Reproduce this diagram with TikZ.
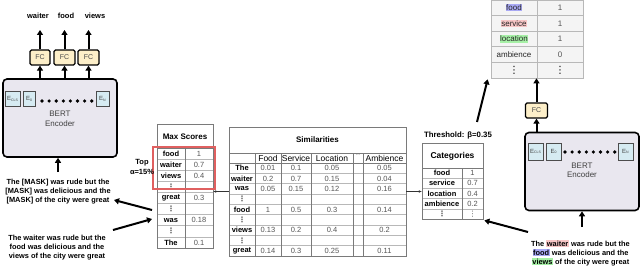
\documentclass[tikz,border=0pt]{standalone}
\usepackage{fontspec}
\setmainfont{Liberation Sans}
\newfontfamily\djv{DejaVu Sans}
\usetikzlibrary{arrows.meta}
\definecolor{bertfill}{HTML}{E9E7EF}
\definecolor{fcfill}{HTML}{FDEFC9}
\definecolor{efill}{HTML}{D6EBF2}
\definecolor{hlblue}{HTML}{A9A9F5}
\definecolor{hlpink}{HTML}{F7C6C6}
\definecolor{hlgreen}{HTML}{A6F0A6}
\definecolor{gridc}{HTML}{B8B8B8}
\definecolor{outc}{HTML}{7A7A7A}
\definecolor{valc}{HTML}{555555}
\definecolor{redbox}{HTML}{E06060}
\definecolor{trfill}{HTML}{F4F4F4}
\newcommand\vd{{\color{valc}\djv ⋮}}
\newcommand\vdb{{\color{black}\djv\fontsize{10}{10}\selectfont ⋮}}
\newcommand\hlx[2]{{\setlength\fboxsep{0.6pt}\colorbox{#1}{\vphantom{fd}#2}}}
\tikzset{
 bert/.style={draw=black, line width=1.6pt, rounded corners=4pt, fill=bertfill, minimum width=114pt, minimum height=78pt, inner sep=0},
 fcbox/.style={draw=black, line width=1.3pt, rounded corners=1.5pt, fill=fcfill, minimum width=20pt, minimum height=15pt, inner sep=0, font=\fontsize{7}{7}\selectfont, text=black!70},
 ebox/.style={draw=black!70, line width=1pt, fill=efill, inner sep=0, font=\fontsize{6}{7}\selectfont, text=black!75},
 bigarrow/.style={line width=2pt, -{Triangle[length=5pt,width=6pt]}},
 thinarrow/.style={line width=0.5pt, draw=black!80, -{Stealth[length=3pt,width=2.5pt]}},
 sent/.style={align=center, font=\bfseries\fontsize{7.4}{9}\selectfont, inner sep=0},
 lbl/.style={font=\bfseries\fontsize{7.5}{8}\selectfont, inner sep=0},
 tbl/.style={draw=outc, line width=0.7pt, inner sep=0},
 ttitle/.style={font=\bfseries\fontsize{8}{9}\selectfont, inner sep=0},
 cellw/.style={font=\bfseries\fontsize{7.5}{8}\selectfont, inner sep=0},
 cellh/.style={font=\fontsize{8.5}{9}\selectfont, inner sep=0},
 cellv/.style={font=\fontsize{7.5}{8}\selectfont, text=valc, inner sep=0},
 gridl/.style={draw=gridc, line width=0.6pt},
 darkl/.style={draw=outc, line width=0.7pt},
 bdot/.style={circle, fill=black, inner sep=0, minimum size=3.6pt},
 btext/.style={align=center, font=\fontsize{8}{9.5}\selectfont, text=black!75, inner sep=0},
}
\begin{document}
\begin{tikzpicture}[x=1pt,y=-1pt]
\useasboundingbox (0,0) rectangle (640,270);
\fill[white] (0,0) rectangle (640,270);

% ---------- left BERT ----------
\node[bert] (lbert) at (60,118) {};
\node[ebox, minimum width=15pt, minimum height=15pt] (lecls) at (12.5,99) {E\raisebox{-0.8pt}{\fontsize{3.5}{4}\selectfont CLS}};
\node[ebox, minimum width=12pt, minimum height=15pt] (le0) at (29,99) {E\raisebox{-0.8pt}{\fontsize{3.5}{4}\selectfont 0}};
\node[ebox, minimum width=13pt, minimum height=15pt] (len) at (102.5,99) {E\raisebox{-0.8pt}{\fontsize{3.5}{4}\selectfont N}};
\foreach \k in {0,...,7} \node[bdot] (ld\k) at ({42+\k*7.1},101) {};
\node[btext] (lbt) at (60,119) {BERT\\Encoder};

\node[fcbox] (lfc1) at (40,57.5) {FC};
\node[fcbox, minimum width=21pt] (lfc2) at (64.5,57.5) {FC};
\node[fcbox, minimum width=21pt] (lfc3) at (88.5,57.5) {FC};
\foreach \f in {lfc1,lfc2,lfc3} \draw[bigarrow] (\f.south |- lbert.north) -- (\f.south);

\node[lbl] (lw) at (38,16) {waiter};
\node[lbl] (lf) at (66,16) {food};
\node[lbl] (lv) at (95,16) {views};
\coordinate (la) at (0,30);
\foreach \f in {lfc1,lfc2,lfc3} \draw[bigarrow] (\f.north) -- (\f.north |- la);

% ---------- left texts ----------
\node[sent] (mask) at (58,192) {The [MASK] was rude but the\\ {[MASK]} was delicious and the\\ {[MASK]} of the city were great};
\coordinate (ma1) at (58,172);
\draw[bigarrow] (ma1) -- (ma1 |- lbert.south);
\node[sent] (orig) at (57,247.5) {The waiter was rude but the\\food was delicious and the\\views of the city were great};

\coordinate (a1s) at (152,210);
\coordinate (a1e) at (114,200);
\draw[bigarrow] (a1s) -- (a1e);
\coordinate (a2s) at (113,230);
\coordinate (a2e) at (152,219);
\draw[bigarrow] (a2s) -- (a2e);

% ---------- Max Scores ----------
\node[tbl, minimum width=56pt, minimum height=124pt] (ms) at (185,186) {};
\foreach \i in {1,...,8} \draw[gridl] (157,{148+\i*11.111}) -- (213,{148+\i*11.111});
\draw[darkl] (157,148) -- (213,148);
\draw[darkl] (185,148) -- (185,248);
\node[tbl, minimum width=56pt, minimum height=124pt] (msb) at (185,186) {};
\node[ttitle] (mst) at (185,137) {Max Scores};
\foreach \w/\s [count=\i] in {food/1, waiter/0.7, views/0.4, \vd/{}, great/0.3, \vd/{}, was/0.18, \vd/{}, The/0.1}{
  \node[cellw] (msw\i) at (171,{148+(\i-0.5)*11.111}) {\w};
  \node[cellv] (mss\i) at (199,{148+(\i-0.5)*11.111}) {\s};
}
\node[draw=redbox, line width=1.1pt, minimum width=62pt, minimum height=42pt, inner sep=0] (topbox) at (184,168) {};
\node[lbl, align=center, font=\bfseries\fontsize{7.5}{10}\selectfont] (topa) at (142,167) {Top\\α=15\%};

% ---------- Similarities ----------
\node[tbl, minimum width=177pt, minimum height=129pt] (sim) at (317.5,191.5) {};
\foreach \i in {1,...,8} \draw[gridl] (229,{163+\i*10.333}) -- (406,{163+\i*10.333});
\foreach \x in {255,281,311,353,363} \draw[darkl] (\x,153) -- (\x,256);
\draw[darkl] (229,153) -- (406,153);
\draw[darkl] (229,163) -- (406,163);
\node[tbl, minimum width=177pt, minimum height=129pt] (simb) at (317.5,191.5) {};
\node[ttitle] (simt) at (317.5,140) {Similarities};
\node[cellh] (sh1) at (268,158) {Food};
\node[cellh] (sh2) at (296,158) {Service};
\node[cellh] (sh3) at (332,158) {Location};
\node[cellh, font=\fontsize{5}{5}\selectfont, text=valc] (sh4) at (358,155.5) {...};
\node[cellh] (sh5) at (384.5,158) {Ambience};
\foreach \w/\a/\b/\c/\d [count=\i] in {The/0.01/0.1/0.05/0.05, waiter/0.2/0.7/0.15/0.04, was/0.05/0.15/0.12/0.16, \vd/{}/{}/{}/{}, food/1/0.5/0.3/0.14, \vd/{}/{}/{}/{}, views/0.13/0.2/0.4/0.2, \vd/{}/{}/{}/{}, great/0.14/0.3/0.25/0.11}{
  \node[cellw] (sw\i) at (242,{163+(\i-0.5)*10.333}) {\w};
  \node[cellv] (sa\i) at (268,{163+(\i-0.5)*10.333}) {\a};
  \node[cellv] (sb\i) at (296,{163+(\i-0.5)*10.333}) {\b};
  \node[cellv] (sc\i) at (332,{163+(\i-0.5)*10.333}) {\c};
  \node[cellv] (sd\i) at (384.5,{163+(\i-0.5)*10.333}) {\d};
}

% ---------- Categories ----------
\node[tbl, minimum width=61pt, minimum height=76pt] (cat) at (452.5,181) {};
\foreach \i in {1,...,4} \draw[gridl] (422,{168+\i*10.2}) -- (483,{168+\i*10.2});
\draw[darkl] (422,168) -- (483,168);
\draw[darkl] (462,168) -- (462,219);
\node[tbl, minimum width=61pt, minimum height=76pt] (catb) at (452.5,181) {};
\node[ttitle, font=\bfseries\fontsize{8.5}{9}\selectfont] (catt) at (452.5,156) {Categories};
\foreach \w/\s [count=\i] in {food/1, service/0.7, location/0.4, ambience/0.2, \vd/\vd}{
  \node[cellw] (cw\i) at (442,{168+(\i-0.5)*10.2}) {\w};
  \node[cellv] (cv\i) at (472.5,{168+(\i-0.5)*10.2}) {\s};
}
\node[lbl, font=\bfseries\fontsize{7.8}{8}\selectfont] (thr) at (458,135) {Threshold: β=0.35};

\draw[thinarrow] (simb.west) -- (simb.west -| msb.east);
\draw[thinarrow] (simb.east) -- (simb.east -| catb.west);

% ---------- top-right table ----------
\node[tbl, draw=gridc, fill=trfill, minimum width=92pt, minimum height=78pt] (tr) at (537,39) {};
\foreach \i in {1,...,4} \draw[gridl] (491,{\i*15.6}) -- (583,{\i*15.6});
\draw[gridl] (537,0) -- (537,78);
\foreach \w/\s [count=\i] in {\hlx{hlblue}{food}/1, \hlx{hlpink}{service}/1, \hlx{hlgreen}{location}/1, ambience/0, \vdb/\vdb}{
  \node[font=\fontsize{8}{8}\selectfont, text=black!85, inner sep=0] (tw\i) at (514,{(\i-0.5)*15.6}) {\w};
  \node[cellv, font=\fontsize{8}{8}\selectfont] (tv\i) at (560,{(\i-0.5)*15.6}) {\s};
}
\coordinate (c1) at (477,122);
\draw[bigarrow] (c1) -- ([shift={(-3,1)}]tr.south west);

% ---------- right BERT ----------
\node[bert] (rbert) at (582,171.5) {};
\node[ebox, minimum width=15pt, minimum height=17pt] (recls) at (535.5,151.5) {E\raisebox{-0.8pt}{\fontsize{3.5}{4}\selectfont CLS}};
\node[ebox, minimum width=15pt, minimum height=17pt] (re0) at (553.5,151.5) {E\raisebox{-0.8pt}{\fontsize{3.5}{4}\selectfont 0}};
\node[ebox, minimum width=15pt, minimum height=17pt] (ren) at (625.5,151.5) {E\raisebox{-0.8pt}{\fontsize{3.5}{4}\selectfont N}};
\foreach \k in {0,...,7} \node[bdot] (rd\k) at ({565+\k*7.1},152) {};
\node[btext] (rbt) at (582,170.5) {BERT\\Encoder};

\node[fcbox, minimum width=22pt] (rfc) at (536.5,110.5) {FC};
\draw[bigarrow] (rbert.north -| rfc.south) -- (rfc.south);
\draw[bigarrow] (rfc.north) -- (rfc.north |- tr.south);

\node[sent] (rsent) at (580.5,253) {The \hlx{hlpink}{waiter} was rude but the\\\hlx{hlblue}{food} was delicious and the\\\hlx{hlgreen}{views} of the city were great};
\coordinate (rs1) at (582,227);
\draw[bigarrow] (rs1) -- (rs1 |- rbert.south);
\coordinate (rs2) at (528,232);
\draw[bigarrow] (rs2) -- ([shift={(1,1)}]cat.south east);
\end{tikzpicture}
\end{document}
